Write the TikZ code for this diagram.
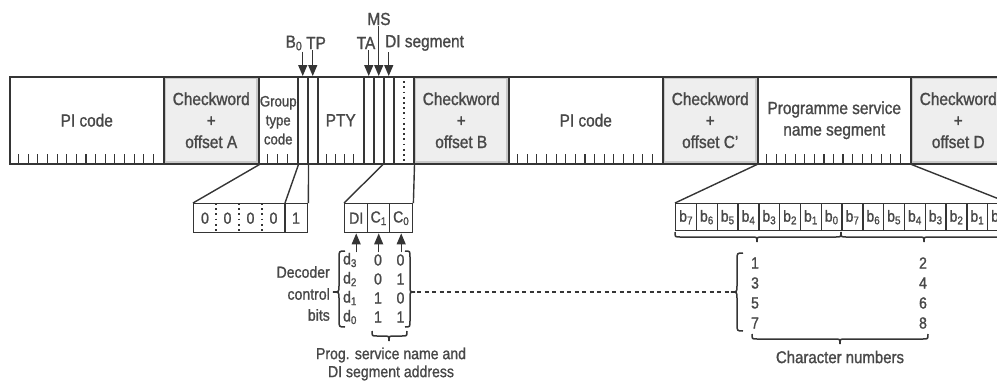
\documentclass[tikz,border=0pt]{standalone}
\usepackage{fontspec}
\setmainfont{Liberation Sans}[FakeStretch=0.88,FakeBold=1.2]
\usetikzlibrary{arrows.meta,calc}
\definecolor{ink}{HTML}{353535}
\definecolor{txt}{HTML}{484848}
\definecolor{ckfill}{HTML}{EEEEEE}
\definecolor{ckframe}{HTML}{C8C8C8}
\newcommand{\BrL}[4]{\draw[brc] (#1+12,#2) .. controls (#1+6,#2) .. (#1+6,#2+7) -- (#1+6,#3-6) .. controls (#1+6,#3) .. (#1,#3) .. controls (#1+6,#3) .. (#1+6,#3+6) -- (#1+6,#4-7) .. controls (#1+6,#4) .. (#1+12,#4);}
\newcommand{\BrR}[4]{\draw[brc] (#1-10,#2) .. controls (#1-5,#2) .. (#1-5,#2+6) -- (#1-5,#3-5) .. controls (#1-5,#3) .. (#1,#3) .. controls (#1-5,#3) .. (#1-5,#3+5) -- (#1-5,#4-6) .. controls (#1-5,#4) .. (#1-10,#4);}
\newcommand{\BrD}[4]{\draw[brc] (#1,#4) .. controls (#1,#4+5) .. (#1+5,#4+5) -- (#2-5,#4+5) .. controls (#2,#4+5) .. (#2,#4+10) .. controls (#2,#4+5) .. (#2+5,#4+5) -- (#3-5,#4+5) .. controls (#3,#4+5) .. (#3,#4);}
\tikzset{
 fld/.style={draw=ink, line width=1.5pt, inner sep=0pt, anchor=north west, minimum height=87pt, text=txt, align=center, font=\fontsize{17.5}{21.5}\selectfont},
 ck/.style={fld, fill=ckfill, path picture={\draw[ckframe, line width=5pt] (path picture bounding box.south west) rectangle (path picture bounding box.north east);}},
 bittick/.style={draw=ink, line width=1.2pt},
 arr/.style={draw=ink, line width=1.3pt, -{Triangle[width=9pt,length=11pt]}},
 lbl/.style={text=txt, inner sep=1pt, font=\fontsize{17.5}{20}\selectfont},
 sm/.style={text=txt, inner sep=1pt, font=\fontsize{16}{18}\selectfont},
 cell/.style={draw=ink, line width=1.4pt, inner sep=0pt, anchor=north west, text=txt, font=\fontsize{16}{18}\selectfont},
 proj/.style={draw=ink, line width=1.4pt},
 dotsep/.style={draw=ink, line width=1.8pt, dash pattern=on 1.8pt off 3.4pt},
 brc/.style={draw=ink, line width=1.5pt},
 dsh/.style={draw=ink, line width=1.4pt, dash pattern=on 4pt off 3.5pt},
}
\begin{document}
\begin{tikzpicture}[x=1pt,y=-1pt]
\useasboundingbox (0,0) rectangle (997,381);
% main bar
\node[fld, minimum width=154pt] (pi1) at (9,76) {PI code};
\node[ck, minimum width=95pt] (ckA) at (163,76) {Checkword\\+\\offset A};
\node[fld, minimum width=39pt, text width=39pt, font=\fontsize{15}{19}\selectfont] (gtc) at (258,76) {Group\\type\\code};
\node[fld, minimum width=10pt] (b0) at (297,76) {};
\node[fld, minimum width=10pt] (tp) at (307,76) {};
\node[fld, minimum width=46pt] (pty) at (317,76) {PTY};
\node[fld, minimum width=10pt] (ta) at (363,76) {};
\node[fld, minimum width=10pt] (ms) at (373,76) {};
\node[fld, minimum width=10pt] (di) at (383,76) {};
\node[fld, minimum width=20pt] (cc) at (393,76) {};
\node[ck, minimum width=95pt] (ckB) at (413,76) {Checkword\\+\\offset B};
\node[fld, minimum width=154pt] (pi2) at (508,76) {PI code};
\node[ck, minimum width=95pt] (ckC) at (662,76) {Checkword\\+\\offset C'};
\node[fld, minimum width=153pt] (ps) at (757,76) {Programme service\\name segment};
\node[ck, minimum width=95pt] (ckD) at (910,76) {Checkword\\+\\offset D};
\draw[dotsep] (cc.north) -- (cc.south);
% bit ticks
\foreach \i in {1,...,15} {
  \draw[bittick] ($(pi1.south west)+(\i*9.625,0)$) -- ++(0,-11);
  \draw[bittick] ($(pi2.south west)+(\i*9.625,0)$) -- ++(0,-11);
  \draw[bittick] ($(ps.south west)+(\i*9.5625,0)$) -- ++(0,-11);
}
\foreach \i in {1,2,3} \draw[bittick] ($(gtc.south west)+(\i*9.75,0)$) -- ++(0,-11);
\foreach \i in {1,...,4} \draw[bittick] ($(pty.south west)+(\i*9.2,0)$) -- ++(0,-11);
% top labels and arrows
\node[lbl] (lB0) at (294,43) {B\textsubscript{0}};
\node[lbl] (lTP) at (316,43) {TP};
\node[lbl] (lTA) at (366,43) {TA};
\node[lbl] (lMS) at (379,19) {MS};
\node[lbl, anchor=west] (lDI) at (384,43) {DI segment};
\draw[arr] (b0.north |- lB0.south) -- (b0.north);
\draw[arr] (tp.north |- lTP.south) -- (tp.north);
\draw[arr] (ta.north |- lTA.south) -- (ta.north);
\draw[arr] (ms.north |- lMS.south) -- (ms.north);
\draw[arr] (di.north |- lDI.south) -- (di.north);
% group type code bits
\node[cell, minimum width=114pt, minimum height=29pt] (gbox) at (193,203) {};
\node[sm] (g1) at ($(gbox.west)+(12,0)$) {0};
\node[sm] (g2) at ($(gbox.west)+(34.5,0)$) {0};
\node[sm] (g3) at ($(gbox.west)+(57.5,0)$) {0};
\node[sm] (g4) at ($(gbox.west)+(80.5,0)$) {0};
\node[sm] (g5) at ($(gbox.west)+(103,0)$) {1};
\foreach \d in {23,46,69} \draw[dotsep] ($(gbox.north west)+(\d,0)$) -- ($(gbox.south west)+(\d,0)$);
\draw[proj] ($(gbox.north west)+(92,0)$) -- ($(gbox.south west)+(92,0)$);
\draw[proj] (ckA.south east) -- (gbox.north west);
\draw[proj] (gtc.south east) -- ($(gbox.north west)+(92,0)$);
\draw[proj] (b0.south east) -- (gbox.north east);
% DI C1 C0
\node[cell, minimum width=23pt, minimum height=29pt] (cDI) at (344,203) {DI};
\node[cell, minimum width=22pt, minimum height=29pt] (cC1) at (367,203) {C\textsubscript{1}};
\node[cell, minimum width=23pt, minimum height=29pt] (cC0) at (389,203) {C\textsubscript{0}};
\draw[proj] (di.south west) -- (cDI.north west);
\draw[proj] (cc.south east) -- (cC0.north east);
\draw[arr] ($(cDI.south)+(0,19)$) -- (cDI.south);
\draw[arr] ($(cC1.south)+(0,19)$) -- (cC1.south);
\draw[arr] ($(cC0.south)+(0,19)$) -- (cC0.south);
% decoder table
\foreach \r/\y/\a/\b in {3/260/0/0, 2/279/0/1, 1/298/1/0, 0/317/1/1} {
  \node[sm] (d\r) at (350,\y) {d\textsubscript{\r}};
  \node[sm] (da\r) at (378,\y) {\a};
  \node[sm] (db\r) at (400.5,\y) {\b};
}
\BrL{333}{251}{292}{327}
\BrR{415}{251}{292}{327}
\node[sm, anchor=east] (dec) at (331,272) {Decoder};
\node[sm, anchor=east] (ctl) at (331,294) {control};
\node[sm, anchor=east] (bts) at (331,315) {bits};
\BrD{372}{389}{407}{331}
\node[sm] (pg1) at (391,355) {Prog. service name and};
\node[sm] (pg2) at (391,373) {DI segment address};
\coordinate (ds1) at (417,292);
\coordinate (ds2) at (729,292);
\draw[dsh] (ds1) -- (ds2);
% PS bit cells
\foreach \i/\s in {0/7,1/6,2/5,3/4,4/3,5/2,6/1,7/0,8/7,9/6,10/5,11/4,12/3,13/2,14/1,15/0}
  \node[cell, minimum width=20.8pt, minimum height=27pt] (bc\i) at ({675+\i*20.8},203) {b\textsubscript{\s}};
\draw[proj] (ps.south west) -- (bc0.north west);
\draw[proj] (ps.south east) -- (bc15.north east);
\BrD{675}{757}{841}{232}
\BrD{841}{924}{1008}{232}
% character numbers
\BrL{731}{253}{292}{331}
\foreach \n/\y in {1/263,3/283,5/303,7/323} \node[sm] (n\n) at (755,\y) {\n};
\foreach \n/\y in {2/263,4/283,6/303,8/323} \node[sm] (n\n) at (923,\y) {\n};
\BrD{752}{840}{928}{334}
\node[sm, font=\fontsize{17}{19}\selectfont] (chn) at (840,357) {Character numbers};
\end{tikzpicture}
\end{document}
